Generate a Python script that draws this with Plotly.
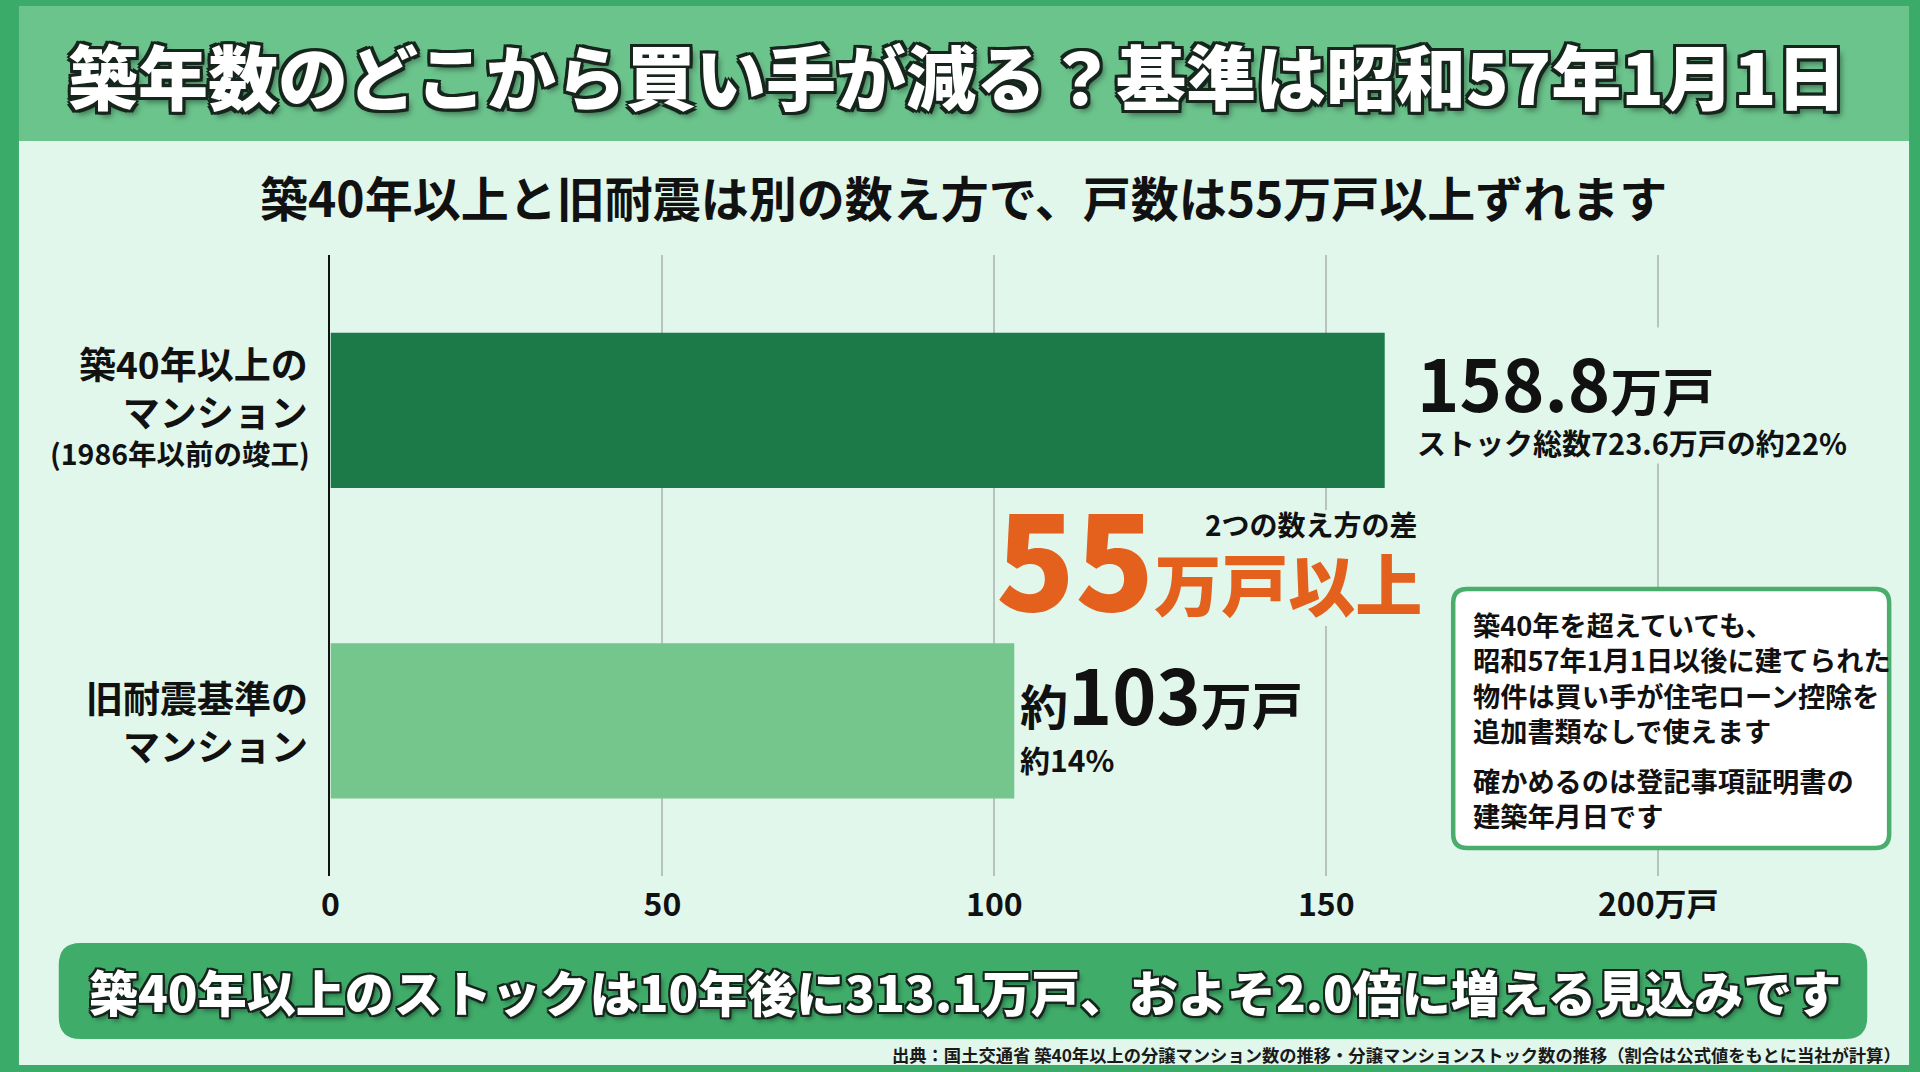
import plotly.graph_objects as go

# data
categories = ["築40年以上のマンション", "旧耐震基準のマンション"]
values = [158.8, 103]
value_prefix = ["", "約"]
value_text = ["158.8", "103"]
share_text = ["ストック総数723.6万戸の約22%", "約14%"]
tick_vals = [0, 50, 100, 150, 200]
tick_text = ["0", "50", "100", "150", "200万戸"]
bar_colors = ["#1b7a47", "#74c68c"]

W, H = 1920, 1072
FONT = "Noto Sans CJK JP"
BG = "#e1f7ec"
BORDER = "#3bab69"


def px(x):
    return x / W


def py(y):
    return 1 - y / H


def outline(w, col="#17261d", drop="4px 5px 6px rgba(0,0,0,0.45)"):
    parts = []
    for dx in (-w, 0, w):
        for dy in (-w, 0, w):
            if dx or dy:
                parts.append(f"{dx}px {dy}px 0 {col}")
    parts.append(drop)
    return ", ".join(parts)


def rounded(x0, y0, x1, y1, r):
    # rounded rectangle path in paper coords (given pixel positions)
    rx, ry = r / W, r / H
    a, b, c, d = px(x0), py(y1), px(x1), py(y0)
    return (f"M{a+rx},{b} L{c-rx},{b} Q{c},{b} {c},{b+ry} L{c},{d-ry} Q{c},{d} {c-rx},{d} "
            f"L{a+rx},{d} Q{a},{d} {a},{d-ry} L{a},{b+ry} Q{a},{b} {a+rx},{b} Z")


fig = go.Figure()
fig.add_trace(go.Bar(
    x=values, y=categories, orientation="h", width=0.5,
    marker=dict(color=bar_colors, line=dict(width=0)),
    hoverinfo="skip", showlegend=False,
))

x0_px, unit = 323, 6.67
x_max = 230
fig.update_xaxes(
    domain=[px(x0_px), px(x0_px + x_max * unit)], range=[0, x_max],
    tickvals=tick_vals, ticktext=tick_text, showline=False, zeroline=False,
    showgrid=True, gridcolor="#b7c3bc", gridwidth=1.5, ticks="",
    ticklabelstandoff=7,
    tickfont=dict(family=FONT, size=32, color="#111", weight="bold"),
)
fig.update_yaxes(
    domain=[py(876), py(255)], range=[1.5, -0.5], type="category",
    categoryarray=categories, showticklabels=False, showgrid=False,
    zeroline=False, showline=True, linecolor="#111", linewidth=2, ticks="",
)

shapes = [
    dict(type="rect", xref="paper", yref="paper", x0=px(10), x1=px(1909), y0=py(1065), y1=py(141),
         fillcolor=BG, line=dict(width=0), layer="below"),
    dict(type="rect", xref="paper", yref="paper", x0=px(10), x1=px(1909), y0=py(141), y1=py(6),
         fillcolor="#6cc48d", line=dict(width=0), layer="below"),
    dict(type="path", xref="paper", yref="paper", path=rounded(50, 943, 1867, 1039, 22),
         fillcolor="#40ac6a", line=dict(width=0), layer="below"),
    # patch of background behind the difference callout
    dict(type="rect", xref="paper", yref="paper", x0=px(1160), x1=px(1424), y0=py(626), y1=py(510),
         fillcolor=BG, line=dict(width=0), layer="above"),
    dict(type="path", xref="paper", yref="paper", path=rounded(1451, 589, 1889, 848, 14),
         fillcolor="white", line=dict(width=4.5, color="#4aad6b"), layer="above"),
]

ann = []
# header title
ann.append(dict(text="築年数のどこから買い手が減る？基準は昭和57年1月1日", x=px(952), y=py(74),
                font=dict(family=FONT, size=70, color="white", weight=900, shadow=outline(3))))
# subtitle
ann.append(dict(text="築40年以上と旧耐震は別の数え方で、戸数は55万戸以上ずれます", x=px(959), y=py(196),
                font=dict(family=FONT, size=48, color="#111", weight="bold")))

# category labels
cat_main = ["築40年以上の<br>マンション", "旧耐震基準の<br>マンション"]
cat_sub = ["(1986年以前の竣工)", ""]
cat_shift = [23, 0]
for i, cat in enumerate(categories):
    ann.append(dict(text=cat_main[i], xref="paper", x=px(302), yref="y", y=cat, xanchor="right",
                    yanchor="middle", align="right", yshift=cat_shift[i],
                    font=dict(family=FONT, size=37, color="#111", weight="bold")))
    if cat_sub[i]:
        ann.append(dict(text=cat_sub[i], xref="paper", x=px(304), yref="y", y=cat, xanchor="right",
                        yanchor="middle", align="right", yshift=-42,
                        font=dict(family=FONT, size=28.5, color="#111", weight="bold")))

# value labels
xshifts = [31, 5]
big_sizes = [72, 75]
unit_sizes = [52, 51]
for i, cat in enumerate(categories):
    pre = f"<span style='font-size:48px'>{value_prefix[i]}</span>" if value_prefix[i] else ""
    txt = f"{pre}{value_text[i]}<span style='font-size:{unit_sizes[i]}px'>万戸</span>"
    ann.append(dict(text=txt, xref="x", x=values[i], yref="y", y=cat, xanchor="left",
                    yanchor="middle", xshift=xshifts[i], yshift=[30, 28][i], bgcolor=BG, borderpad=0,
                    font=dict(family=FONT, size=big_sizes[i], color="#111", weight="bold")))
    ann.append(dict(text=share_text[i], xref="x", x=values[i], yref="y", y=cat, xanchor="left",
                    yanchor="middle", xshift=xshifts[i], yshift=[-32, -38][i], bgcolor=BG, borderpad=0,
                    font=dict(family=FONT, size=29 if i == 0 else 30, color="#111", weight="bold")))

# difference callout
ann.append(dict(text="55<span style='font-size:67px'>万戸以上</span>", x=px(1422), y=py(604),
                xanchor="right", yanchor="bottom", yshift=-46,
                font=dict(family=FONT, size=130, color="#e4601d", weight=900)))
ann.append(dict(text="2つの数え方の差", x=px(1418), y=py(524), xanchor="right",
                font=dict(family=FONT, size=28, color="#111", weight="bold")))

# info box
ann.append(dict(text="築40年を超えていても、<br>昭和57年1月1日以後に建てられた<br>物件は買い手が住宅ローン控除を<br>追加書類なしで使えます",
                x=px(1469), y=py(677), xanchor="left", align="left",
                font=dict(family=FONT, size=27.2, color="#111", weight="bold")))
ann.append(dict(text="確かめるのは登記事項証明書の<br>建築年月日です",
                x=px(1469), y=py(797), xanchor="left", align="left",
                font=dict(family=FONT, size=27.2, color="#111", weight="bold")))

# bottom banner
ann.append(dict(text="築40年以上のストックは10年後に313.1万戸、およそ2.0倍に増える見込みです",
                x=px(960), y=py(990),
                font=dict(family=FONT, size=49, color="white", weight=900,
                          shadow=outline(2, drop="3px 4px 5px rgba(0,0,0,0.4)"))))
# source
ann.append(dict(text="出典：国土交通省 築40年以上の分譲マンション数の推移・分譲マンションストック数の推移（割合は公式値をもとに当社が計算）",
                x=px(1903), y=py(1054), xanchor="right",
                font=dict(family=FONT, size=17.3, color="#1a1a1a", weight="bold")))

for a in ann:
    a.setdefault("xref", "paper")
    a.setdefault("yref", "paper")
    a.setdefault("showarrow", False)
    a.setdefault("xanchor", "center")
    a.setdefault("yanchor", "middle")

fig.update_layout(
    width=W, height=H, margin=dict(l=0, r=0, t=0, b=0, pad=0),
    paper_bgcolor=BORDER, plot_bgcolor="rgba(0,0,0,0)",
    shapes=shapes, annotations=ann, bargap=0.5,
    font=dict(family=FONT),
)

fig.write_html("out.html", config={"displayModeBar": False},
               post_script="document.body.style.margin='0';document.body.style.overflow='hidden';")
